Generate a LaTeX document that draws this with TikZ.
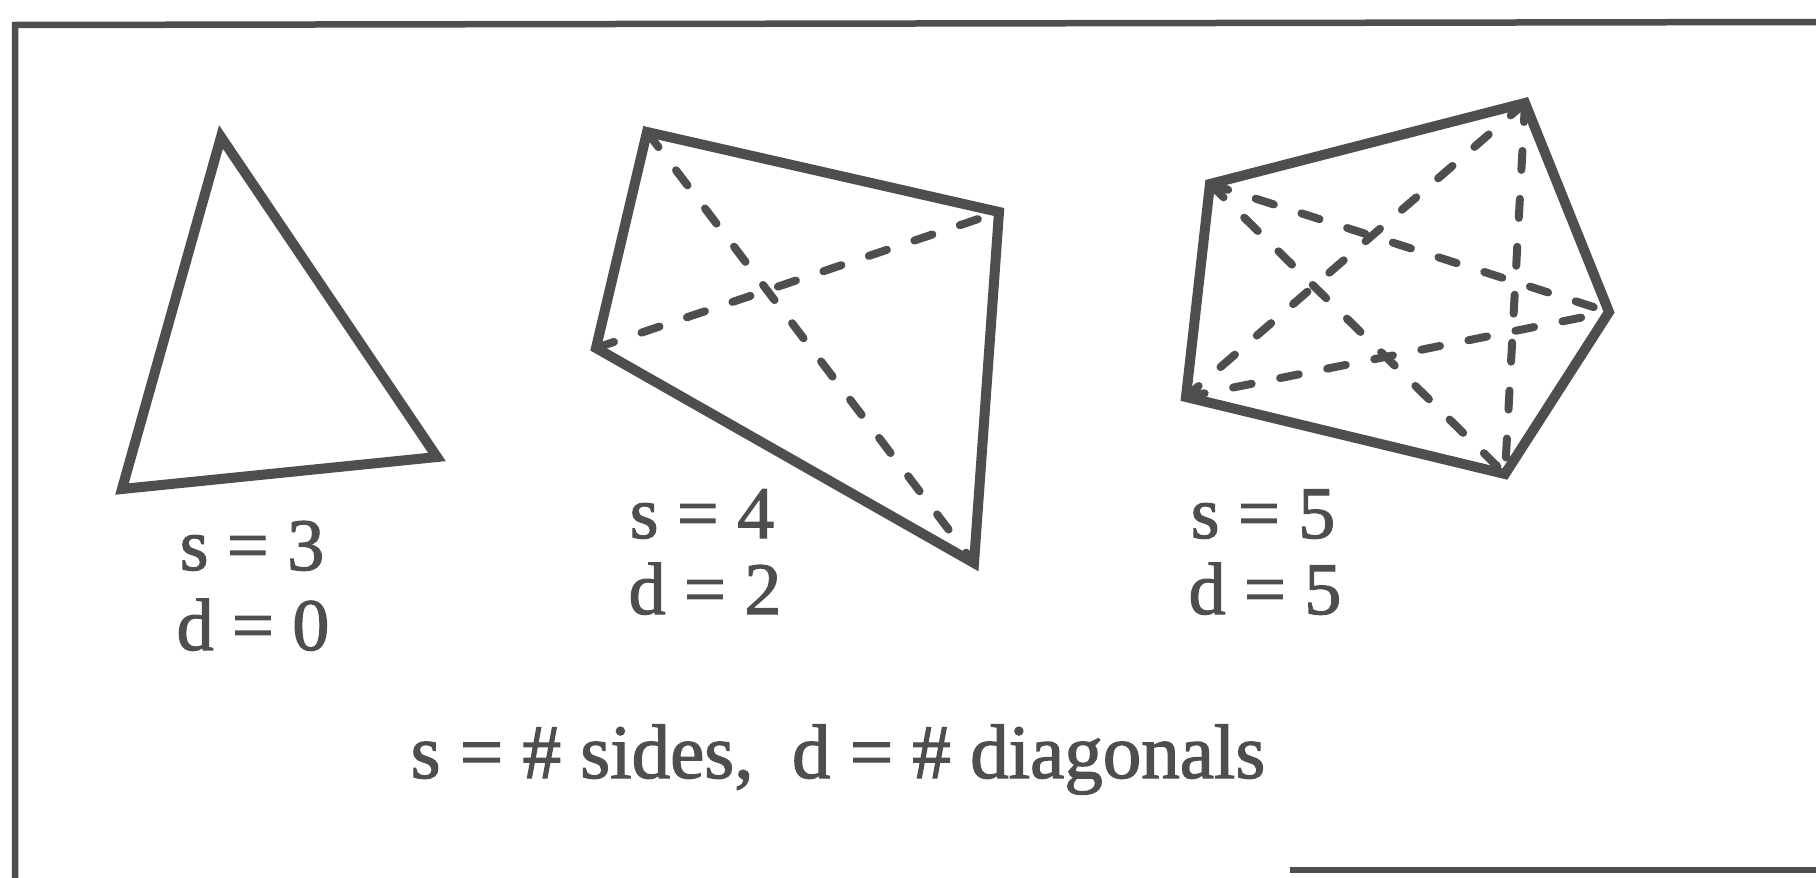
\documentclass[tikz,border=0pt]{standalone}
\usepackage{fontspec}
\setmainfont{Liberation Serif}
\newfontfamily\lblfont{Liberation Serif}[FakeBold=1.6]
\definecolor{ink}{RGB}{78,78,78}
\begin{document}
\begin{tikzpicture}[x=1pt,y=-1pt,
  frameline/.style={draw=ink,line width=6.5pt},
  side/.style={draw=ink,line width=10pt,line join=miter},
  diag/.style={draw=ink,line width=8pt,line cap=round,dash pattern=on 19pt off 29pt},
  lbl/.style={text=ink,anchor=base,inner sep=0pt,font=\lblfont\fontsize{74}{80}\selectfont},
  captext/.style={text=ink,anchor=base,inner sep=0pt,font=\lblfont\fontsize{77}{82}\selectfont}]
\useasboundingbox (0,0) rectangle (1816,878);
% frame
\coordinate (fbl) at (15,878);
\coordinate (ftl) at (15,25);
\coordinate (ftr) at (1816,22);
\coordinate (fbs) at (1290,870);
\coordinate (fbe) at (1816,870);
\draw[frameline] (fbl) -- (ftl) -- (ftr);
\draw[frameline] (fbs) -- (fbe);
% triangle
\coordinate (t1) at (221,137);
\coordinate (t2) at (122,489);
\coordinate (t3) at (437,457);
\draw[side] (t1) -- (t2) -- (t3) -- cycle;
% quadrilateral
\coordinate (q1) at (647,132);
\coordinate (q2) at (999,212);
\coordinate (q3) at (974,563);
\coordinate (q4) at (596,348);
\draw[side] (q1) -- (q2) -- (q3) -- (q4) -- cycle;
\draw[diag] (q1) -- (q3);
\draw[diag] (q4) -- (q2);
% pentagon
\coordinate (p1) at (1210,184);
\coordinate (p2) at (1525,103);
\coordinate (p3) at (1609,312);
\coordinate (p4) at (1505,474);
\coordinate (p5) at (1186,397);
\draw[side] (p1) -- (p2) -- (p3) -- (p4) -- (p5) -- cycle;
\draw[diag] (p1) -- (p3);
\draw[diag] (p1) -- (p4);
\draw[diag] (p2) -- (p4);
\draw[diag] (p2) -- (p5);
\draw[diag] (p5) -- (p3);
% labels
\node[lbl] (s3) at (252,570) {s = 3};
\node[lbl] (d0) at (253,650) {d = 0};
\node[lbl] (s4) at (702,538) {s = 4};
\node[lbl] (d2) at (705,614) {d = 2};
\node[lbl] (s5) at (1263,538) {s = 5};
\node[lbl] (d5) at (1265,614) {d = 5};
\node[captext] (caption) at (838,778) {s = \# sides,\ \ d = \# diagonals};
\end{tikzpicture}
\end{document}
